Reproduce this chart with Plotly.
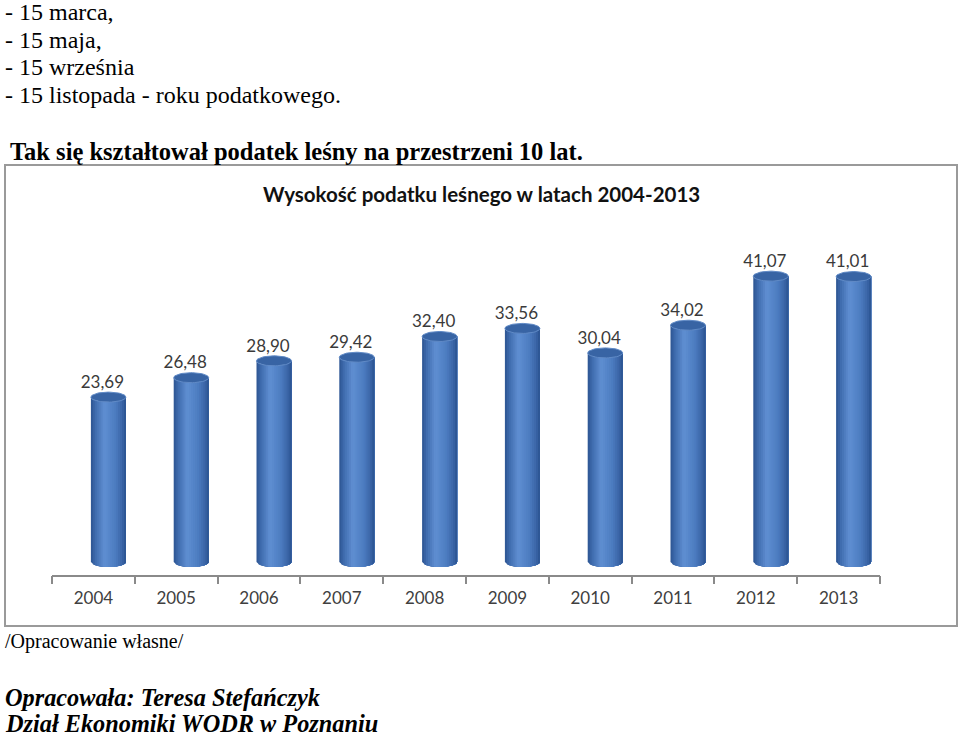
import numpy as np
import plotly.graph_objects as go

# ---------------- data ----------------
years = ["2004", "2005", "2006", "2007", "2008", "2009", "2010", "2011", "2012", "2013"]
tax = [23.69, 26.48, 28.90, 29.42, 32.40, 33.56, 30.04, 34.02, 41.07, 41.01]
value_labels = [f"{v:.2f}".replace(".", ",") for v in tax]

chart_title = "Wysokość podatku leśnego w latach 2004-2013"
doc_lines_top = ["- 15 marca,", "- 15 maja,", "- 15 września", "- 15 listopada - roku podatkowego."]
doc_heading = "Tak się kształtował podatek leśny na przestrzeni 10 lat."
doc_source = "/Opracowanie własne/"
doc_author = ["Opracowała: Teresa Stefańczyk", "Dział Ekonomiki WODR w Poznaniu"]

# ---------------- layout geometry ----------------
W, H = 960, 738
L, R, T, B = 52, 80, 233, 163
plot_w = W - L - R
plot_h = H - T - B
Y_MIN, Y_MAX = -1.87, 47.27
X_MIN, X_MAX = -0.5, len(years) - 0.5
px_per_unit_y = plot_h / (Y_MAX - Y_MIN)
px_per_unit_x = plot_w / (X_MAX - X_MIN)


def px_x(px):
    return (px - L) / plot_w


def px_y(py):
    return (H - B - py) / plot_h


# cylinder geometry (data units)
SHIFT = 15 / px_per_unit_x       # perspective offset of the cylinders
HW = 17.5 / px_per_unit_x        # half width of a cylinder
RY = 5.0 / px_per_unit_y         # half height of the elliptical caps
N_STRIPS = 18

stops = [(0.0, (44, 84, 145)), (0.12, (62, 106, 172)), (0.38, (95, 143, 210)),
         (0.7, (76, 124, 192)), (0.9, (58, 100, 166)), (1.0, (42, 82, 142))]


def grad(t):
    for (t0, c0), (t1, c1) in zip(stops[:-1], stops[1:]):
        if t0 <= t <= t1:
            f = (t - t0) / (t1 - t0)
            c = [round(a + (b - a) * f) for a, b in zip(c0, c1)]
            return f"rgb({c[0]},{c[1]},{c[2]})"
    c = stops[-1][1]
    return f"rgb({c[0]},{c[1]},{c[2]})"


fig = go.Figure()

centers = [i + SHIFT for i in range(len(years))]

# cylinder bodies: overlapping shaded strips (each strip runs to the right edge,
# later strips cover earlier ones, so no seams appear)
for k in range(N_STRIPS):
    xs, ys = [], []
    for cx, v in zip(centers, tax):
        xa = cx - HW + k * 2 * HW / N_STRIPS
        xb = cx + HW
        xx = np.linspace(xa, xb, 24)
        u = np.clip((xx - cx) / HW, -1, 1)
        arc = RY * np.sqrt(1 - u ** 2)
        bottom = -arc
        top = v - arc
        xs += list(xx) + list(xx[::-1]) + [xx[0], None]
        ys += list(bottom) + list(top[::-1]) + [bottom[0], None]
    col = grad((k + 0.5) / N_STRIPS)
    fig.add_trace(go.Scatter(x=xs, y=ys, mode="lines", fill="toself", fillcolor=col,
                             line=dict(color=col, width=0), hoverinfo="skip"))

# elliptical caps
cx_all, cy_all = [], []
theta = np.linspace(0, 2 * np.pi, 60)
for cx, v in zip(centers, tax):
    cx_all += list(cx + HW * np.cos(theta)) + [None]
    cy_all += list(v + RY * np.sin(theta)) + [None]
fig.add_trace(go.Scatter(x=cx_all, y=cy_all, mode="lines", fill="toself", fillcolor="rgb(56,100,164)",
                         line=dict(color="rgb(96,138,198)", width=1), hoverinfo="skip"))

# value labels
fig.add_trace(go.Scatter(x=[c - 6 / px_per_unit_x for c in centers], y=[v + RY for v in tax],
                         mode="text", text=value_labels, textposition="top center",
                         textfont=dict(family="Lato", size=17, color="#3a3a3a"), hoverinfo="skip"))

# helper trace for the boundary tick axis
fig.add_trace(go.Scatter(x=[X_MIN, X_MAX], y=[0, 0], mode="lines", line=dict(width=0),
                         xaxis="x2", hoverinfo="skip"))

# chart box
fig.add_shape(type="rect", xref="paper", yref="paper",
              x0=px_x(5), x1=px_x(957), y0=px_y(626), y1=px_y(165),
              line=dict(color="#9a9a9a", width=2), fillcolor="rgba(0,0,0,0)", layer="below")

ann = []
ann.append(dict(text=f"<b>{chart_title}</b>", x=px_x(481), y=px_y(194), xref="paper", yref="paper",
                showarrow=False, xanchor="center", yanchor="middle",
                font=dict(family="Lato", size=20.5, color="#111111")))
for i, line in enumerate(doc_lines_top):
    ann.append(dict(text=line, x=px_x(3), y=px_y(12 + 27.7 * i), xref="paper", yref="paper",
                    showarrow=False, xanchor="left", yanchor="middle",
                    font=dict(family="Liberation Serif", size=24, color="#000000")))
ann.append(dict(text=f"<b>{doc_heading}</b>", x=px_x(8), y=px_y(151), xref="paper", yref="paper",
                showarrow=False, xanchor="left", yanchor="middle",
                font=dict(family="Liberation Serif", size=24.5, color="#000000")))
ann.append(dict(text=doc_source, x=px_x(3), y=px_y(641), xref="paper", yref="paper",
                showarrow=False, xanchor="left", yanchor="middle",
                font=dict(family="Liberation Serif", size=20, color="#000000")))
for i, line in enumerate(doc_author):
    ann.append(dict(text=f"<b><i>{line}</i></b>", x=px_x(3), y=px_y(697 + 26 * i), xref="paper", yref="paper",
                    showarrow=False, xanchor="left", yanchor="middle",
                    font=dict(family="Liberation Serif", size=24.3, color="#000000")))

fig.update_layout(
    width=W, height=H,
    margin=dict(l=L, r=R, t=T, b=B, pad=0),
    paper_bgcolor="white", plot_bgcolor="white",
    showlegend=False,
    annotations=ann,
    xaxis=dict(range=[X_MIN, X_MAX], tickmode="array", tickvals=list(range(len(years))), ticktext=years,
               ticks="outside", ticklen=7, tickcolor="rgba(0,0,0,0)",
               showline=True, linecolor="#8a8a8a", linewidth=1.5,
               showgrid=False, zeroline=False, fixedrange=True,
               tickfont=dict(family="Lato", size=17, color="#404040")),
    xaxis2=dict(range=[X_MIN, X_MAX], overlaying="x", anchor="y", side="bottom",
                tickmode="array", tickvals=[b - 0.5 for b in range(len(years) + 1)],
                ticks="outside", ticklen=8, tickcolor="#8a8a8a", tickwidth=1.5,
                showticklabels=False, showline=False, showgrid=False, zeroline=False),
    yaxis=dict(range=[Y_MIN, Y_MAX], visible=False, fixedrange=True),
)

fig.write_html("out.html")
